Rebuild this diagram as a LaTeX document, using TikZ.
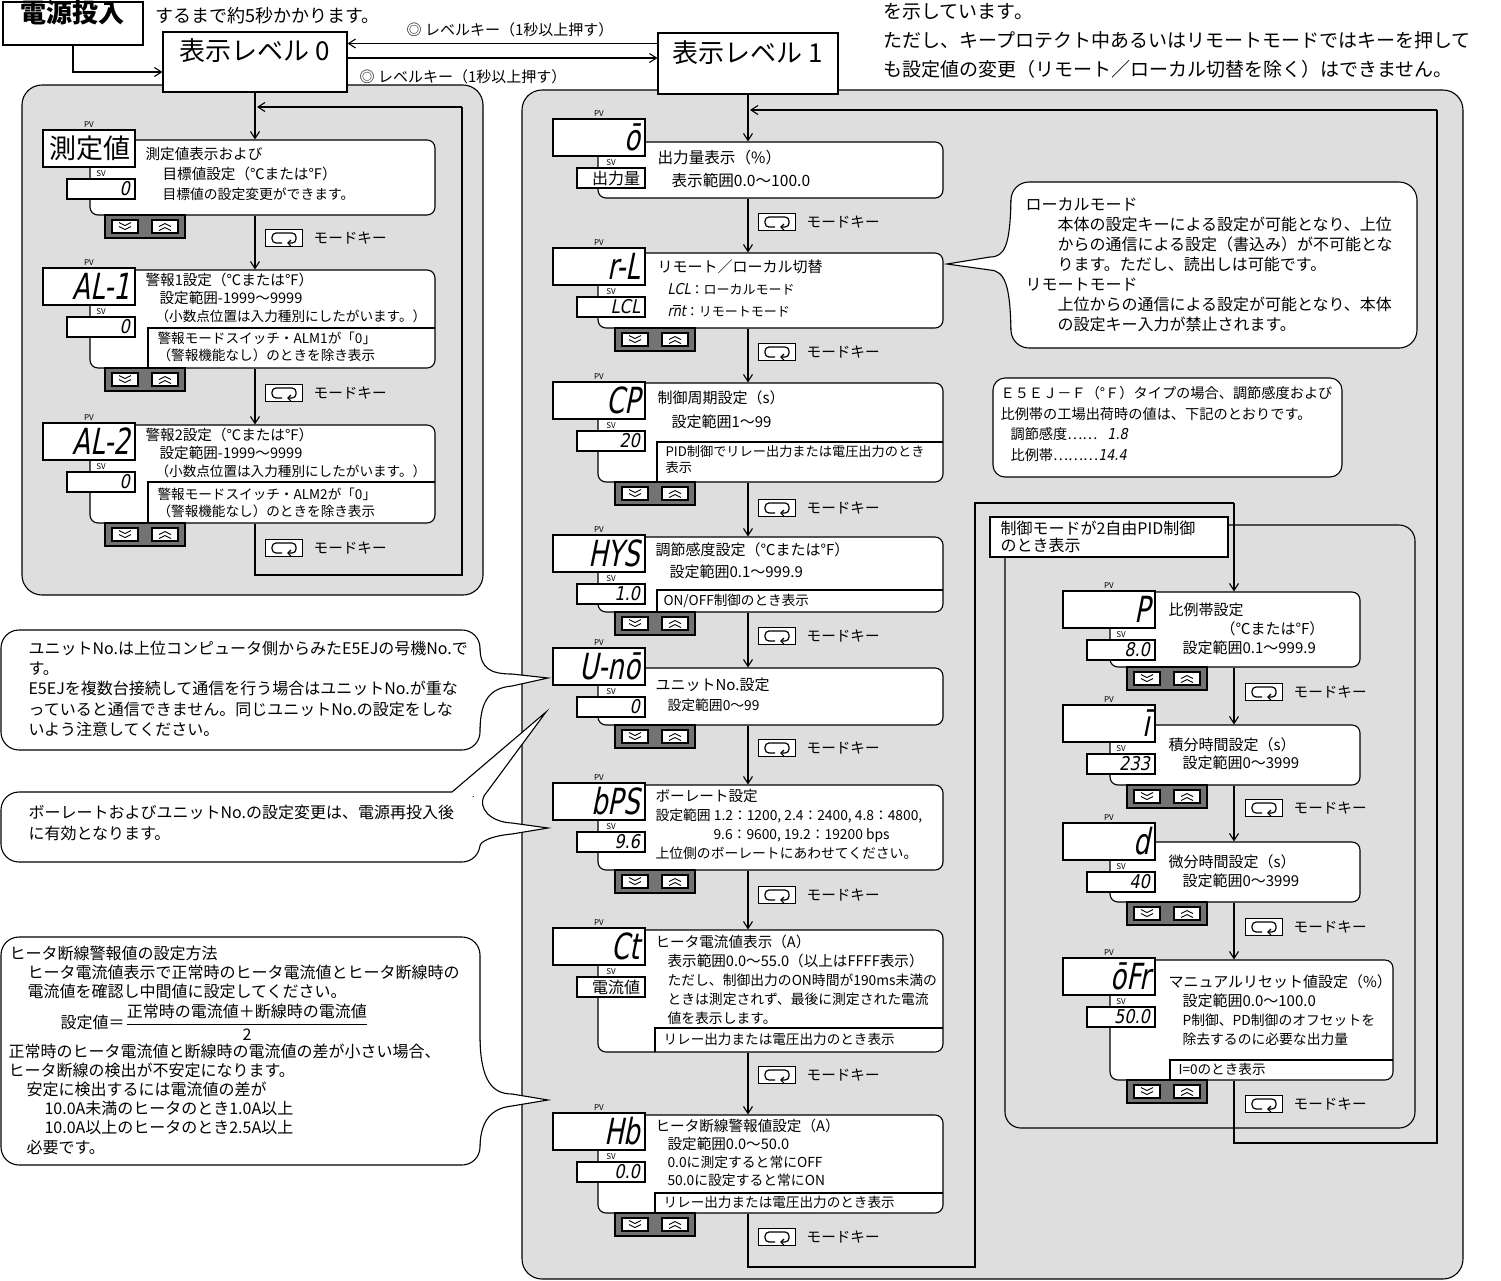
\documentclass[tikz,border=0pt]{standalone}
\usepackage{fontspec}
\setmainfont{Noto Sans CJK JP}
\newfontfamily\segfont[FakeSlant=0.2,FakeStretch=0.85]{DejaVu Sans}
\newfontfamily\segnarrow[FakeSlant=0.2,FakeStretch=0.72]{DejaVu Sans}
\usetikzlibrary{positioning, fit, arrows.meta}

\newcommand{\segsm}{\segfont\fontsize{7.5}{9}\selectfont}
\newcommand{\smtxt}{\fontsize{6.9}{9}\selectfont}

\tikzset{
  panel/.style={draw, fill=black!13, rounded corners=10pt, inner sep=0pt},
  lvlbox/.style={draw, fill=white, inner sep=0pt, font=\fontsize{13}{15}\selectfont},
  descbox/.style={draw, fill=white, rounded corners=4pt, inner sep=0pt},
  callout/.style={draw, fill=white, rounded corners=9pt, inner sep=0pt},
  dispbox/.style={draw, fill=white, inner sep=0pt},
  dlabel/.style={inner sep=0pt, font=\fontsize{4}{4}\selectfont},
  segbig/.style={inner sep=0pt, anchor=east, font=\segnarrow\fontsize{18}{18}\selectfont},
  segsv/.style={inner sep=0pt, anchor=east, font=\segfont\fontsize{9.5}{9.5}\selectfont},
  keypad/.style={draw, fill=black!55, inner sep=0pt},
  keybtn/.style={draw, fill=white, minimum width=13pt, minimum height=6.5pt, inner sep=0pt},
  keydn/.style={keybtn, path picture={\draw[shift={(path picture bounding box.center)}, line width=0.45pt]
      (-6,-4) -- (0,-1) -- (6,-4) (-6,0) -- (0,3) -- (6,0);}},
  keyup/.style={keybtn, path picture={\draw[shift={(path picture bounding box.center)}, line width=0.45pt]
      (-6,4) -- (0,1) -- (6,4) (-6,0) -- (0,-3) -- (6,0);}},
  modebox/.style={draw, fill=white, minimum width=18.5pt, minimum height=8.5pt, inner sep=0pt,
    path picture={\draw[shift={(path picture bounding box.center)}, rounded corners=2pt, line width=0.6pt,
      {Straight Barb[length=1.5pt,width=3pt]}-] (3,5) -- (12,5) -- (12,-5) -- (-12,-5) -- (-12,5) -- (-2,5);}},
  modelbl/.style={inner sep=0pt, font=\fontsize{7.3}{9}\selectfont},
  lklbl/.style={inner sep=0pt, font=\fontsize{7.5}{9}\selectfont},
  flow/.style={-{Straight Barb[length=3.5pt,width=4.5pt]}},
  txt/.style={anchor=north west, inner sep=0pt, align=left, font=\fontsize{7.3}{9}\selectfont},
  cond/.style={txt, font=\fontsize{6.8}{8.5}\selectfont},
  note/.style={txt, font=\fontsize{8}{10}\selectfont},
}

% display unit: name, x, y, PV text, SV text
\newcommand{\unitdisp}[5]{%
  \node[dispbox, fit={(#2,#3) (#2+92,#3+37)}] (#1pv) {};
  \node[dlabel, above=0.7pt of #1pv] (#1pvl) {PV};
  \node[dispbox, fit={(#2+24,#3+49) (#2+92,#3+69)}] (#1sv) {};
  \node[dlabel, above=0.7pt of #1sv] (#1svl) {SV};
  \node[segbig] (#1pvt) at ([xshift=-2.5pt]#1pv.east) {#4};
  \node[segsv] (#1svt) at ([xshift=-2.5pt]#1sv.east) {#5};
}
% up/down keys: name, x, y
\newcommand{\keypad}[3]{%
  \node[keypad, fit={(#2,#3) (#2+80,#3+23)}] (#1) {};
  \node[keydn] (#1d) at (#2+20,#3+11.5) {};
  \node[keyup] (#1u) at (#2+60,#3+11.5) {};
}
% mode key: name, x, y
\newcommand{\modekey}[3]{%
  \node[modebox, anchor=west] (#1) at (#2,#3) {};
  \node[modelbl, right=5pt of #1] (#1t) {モードキー};
}

\begin{document}
\begin{tikzpicture}[x=0.5pt, y=-0.5pt, line width=0.55pt]
\useasboundingbox (0,0) rectangle (1501,1281);

% panels
\node[panel, fit={(22,85) (483,595)}] (p0) {};
\node[panel, fit={(522,90) (1463,1279)}] (p1) {};
\node[panel, rounded corners=8pt, fit={(1005,525) (1415,1128)}] (p2) {};

% levels
\node[lvlbox, font=\fontsize{13}{15}\selectfont\bfseries, fit={(3,2) (143,45)}] (pw) {電源投入};
\node[lvlbox, fit={(163,32) (347,92)}] (lv0) {表示レベル 0};
\node[lvlbox, fit={(658,33) (838,94)}] (lv1) {表示レベル 1};
\draw[flow] (pw.south) |- ([yshift=-5pt]lv0.west);
\draw[flow] ([yshift=10pt]lv1.west) -- ([yshift=10pt]lv1.west -| lv0.east);
\draw[flow] ([yshift=2pt]lv0.east) -- ([yshift=2pt]lv0.east -| lv1.west);
\node[lklbl] (lk1) at (510,30) {◎ レベルキー（1秒以上押す）};
\node[lklbl] (lk2) at (463,77) {◎ レベルキー（1秒以上押す）};
\node[anchor=west, inner sep=0pt, font=\fontsize{9}{11}\selectfont] (n0) at (155,16) {するまで約5秒かかります。};
\node[txt, font=\fontsize{9.5}{14.5}\selectfont] (n1) at (883,3) {を示しています。\\ただし、キープロテクト中あるいはリモートモードではキーを押して\\も設定値の変更（リモート／ローカル切替を除く）はできません。};

% level 0
\node[descbox, fit={(90,140) (435,215)}] (d01) {};
\node[descbox, fit={(90,270) (435,368)}] (d02) {};
\node[descbox, fit={(90,425) (435,523)}] (d03) {};
\draw (148,368) |- (435,328);
\draw (148,523) |- (435,482);
\unitdisp{a0}{43}{130}{{\normalfont\fontsize{13.5}{13.5}\selectfont 測定値}}{0}
\unitdisp{a1}{43}{268}{AL-1}{0}
\unitdisp{a2}{43}{423}{AL-2}{0}
\keypad{k01}{105}{215}
\keypad{k02}{105}{368}
\keypad{k03}{105}{523}
\modekey{m01}{265}{238}
\modekey{m02}{265}{393}
\modekey{m03}{265}{548}
\node[txt, font=\fontsize{7.3}{10}\selectfont] (t01) at (145,147) {測定値表示および\\\hspace*{8.5pt}目標値設定（℃または°F）\\\hspace*{8.5pt}{\smtxt 目標値の設定変更ができます。}};
\node[txt] (t02) at (145,272) {警報1設定（℃または°F）\\\hspace*{7pt}設定範囲-1999～9999\\\hspace*{5pt}{\fontsize{6.8}{9}\selectfont （小数点位置は入力種別にしたがいます。）}};
\node[cond] (c02) at (157,331) {警報モードスイッチ・ALM1が「0」\\（警報機能なし）のときを除き表示};
\node[txt] (t03) at (145,427) {警報2設定（℃または°F）\\\hspace*{7pt}設定範囲-1999～9999\\\hspace*{5pt}{\fontsize{6.8}{9}\selectfont （小数点位置は入力種別にしたがいます。）}};
\node[cond] (c03) at (157,487) {警報モードスイッチ・ALM2が「0」\\（警報機能なし）のときを除き表示};
\coordinate (fl0) at (255,0);
\draw[flow] (lv0.south) -- (lv0.south |- d01.north);
\draw[flow] (d01.south -| fl0) -- (d02.north -| fl0);
\draw[flow] (d02.south -| fl0) -- (d03.north -| fl0);
\coordinate (r0a) at (255,575);
\coordinate (r0b) at (462,107);
\coordinate (r0c) at (257,107);
\draw (d03.south -| fl0) -- (r0a) -| (r0b);
\draw[flow] (r0b) -- (r0c);

% level 1
\node[descbox, fit={(598,142) (943,198)}] (d11) {};
\node[descbox, fit={(598,253) (943,328)}] (d12) {};
\node[descbox, fit={(598,383) (943,482)}] (d13) {};
\node[descbox, fit={(598,537) (943,612)}] (d14) {};
\node[descbox, fit={(598,668) (943,725)}] (d15) {};
\node[descbox, fit={(598,785) (943,870)}] (d16) {};
\node[descbox, fit={(598,930) (943,1052)}] (d17) {};
\node[descbox, fit={(598,1115) (943,1213)}] (d18) {};
\draw (657,482) |- (943,442);
\draw (657,612) |- (943,590);
\draw (655,1052) |- (943,1028);
\draw (655,1213) |- (943,1193);
\unitdisp{b0}{553}{119}{ō}{{\normalfont\fontsize{8}{8}\selectfont 出力量}}
\unitdisp{b1}{553}{248}{r-L}{LCL}
\unitdisp{b2}{553}{382}{CP}{20}
\unitdisp{b3}{553}{535}{HYS}{1.0}
\unitdisp{b4}{553}{648}{U-nō}{0}
\unitdisp{b5}{553}{783}{bPS}{9.6}
\unitdisp{b6}{553}{928}{Ct}{{\normalfont\fontsize{8}{8}\selectfont 電流値}}
\unitdisp{b7}{553}{1113}{Hb}{0.0}
\keypad{k12}{615}{328}
\keypad{k13}{615}{482}
\keypad{k14}{615}{612}
\keypad{k15}{615}{725}
\keypad{k16}{615}{870}
\keypad{k18}{615}{1213}
\modekey{m11}{758}{222}
\modekey{m12}{758}{352}
\modekey{m13}{758}{508}
\modekey{m14}{758}{636}
\modekey{m15}{758}{748}
\modekey{m16}{758}{895}
\modekey{m17}{758}{1075}
\modekey{m18}{758}{1237}
\node[txt, font=\fontsize{7.8}{11.5}\selectfont] (t11) at (657,150) {出力量表示（\%）\\\hspace*{7pt}表示範囲0.0～100.0};
\node[txt, font=\fontsize{7.5}{11}\selectfont] (t12) at (657,259) {リモート／ローカル切替\\\hspace*{5pt}{\segsm LCL}{\fontsize{6.5}{9}\selectfont ：ローカルモード}\\\hspace*{5pt}{\segsm r$\overline{\mbox{n}}$t}{\fontsize{6.5}{9}\selectfont ：リモートモード}};
\node[txt, font=\fontsize{7.5}{12}\selectfont] (t13) at (657,390) {制御周期設定（s）\\\hspace*{7pt}設定範囲1～99};
\node[cond, font=\fontsize{6.6}{8}\selectfont] (c13) at (665,445) {PID制御でリレー出力または電圧出力のとき\\表示};
\node[txt, font=\fontsize{7.5}{11}\selectfont] (t14) at (655,542) {調節感度設定（℃または°F）\\\hspace*{7pt}設定範囲0.1～999.9};
\node[cond] (c14) at (663,594) {ON/OFF制御のとき表示};
\node[txt, font=\fontsize{7.5}{10}\selectfont] (t15) at (655,677) {ユニットNo.設定\\\hspace*{6pt}{\smtxt 設定範囲0～99}};
\node[txt, font=\fontsize{7.3}{9.5}\selectfont] (t16) at (655,789) {ボーレート設定\\{\smtxt 設定範囲 1.2：1200, 2.4：2400, 4.8：4800,}\\\hspace*{29pt}{\smtxt 9.6：9600, 19.2：19200 bps}\\{\smtxt 上位側のボーレートにあわせてください。}};
\node[txt, font=\fontsize{7.3}{9.6}\selectfont] (t17) at (655,934) {ヒータ電流値表示（A）\\\hspace*{6pt}表示範囲0.0～55.0（以上はFFFF表示）\\\hspace*{6pt}{\smtxt ただし、制御出力のON時間が190ms未満の}\\\hspace*{6pt}{\smtxt ときは測定されず、最後に測定された電流}\\\hspace*{6pt}{\smtxt 値を表示します。}};
\node[cond] (c17) at (663,1033) {リレー出力または電圧出力のとき表示};
\node[txt] (t18) at (655,1118) {ヒータ断線警報値設定（A）\\\hspace*{6pt}設定範囲0.0～50.0\\\hspace*{6pt}{\smtxt 0.0に測定すると常にOFF}\\\hspace*{6pt}{\smtxt 50.0に設定すると常にON}};
\node[cond] (c18) at (663,1196) {リレー出力または電圧出力のとき表示};
\coordinate (fl1) at (748,0);
\draw[flow] (lv1.south) -- (lv1.south |- d11.north);
\foreach \p/\q in {d11/d12, d12/d13, d13/d14, d14/d15, d15/d16, d16/d17, d17/d18}
  \draw[flow] (\p.south -| fl1) -- (\q.north -| fl1);

% 2-DOF PID block
\node[dispbox, fit={(990,517) (1228,557)}] (dof) {};
\node[txt, font=\fontsize{8}{8.8}\selectfont] (doft) at (1000,520) {制御モードが2自由PID制御\\のとき表示};
\node[descbox, fit={(1110,592) (1360,667)}] (d21) {};
\node[descbox, fit={(1110,725) (1360,785)}] (d22) {};
\node[descbox, fit={(1110,842) (1360,902)}] (d23) {};
\node[descbox, fit={(1110,960) (1393,1080)}] (d24) {};
\draw (1170,1080) |- (1393,1060);
\unitdisp{c1}{1063}{591}{P}{8.0}
\unitdisp{c2}{1063}{705}{ī}{233}
\unitdisp{c3}{1063}{823}{d}{40}
\unitdisp{c4}{1063}{958}{ōFr}{50.0}
\keypad{k21}{1127}{667}
\keypad{k22}{1127}{785}
\keypad{k23}{1127}{902}
\keypad{k24}{1127}{1080}
\modekey{m21}{1245}{692}
\modekey{m22}{1245}{808}
\modekey{m23}{1245}{927}
\modekey{m24}{1245}{1104}
\node[txt, font=\fontsize{7.5}{9.5}\selectfont] (t21) at (1168,602) {比例帯設定\\\hspace*{26pt}（℃または°F）\\\hspace*{7pt}設定範囲0.1～999.9};
\node[txt, font=\fontsize{7.5}{9}\selectfont] (t22) at (1168,737) {積分時間設定（s）\\\hspace*{7pt}設定範囲0～3999};
\node[txt, font=\fontsize{7.5}{9.5}\selectfont] (t23) at (1168,854) {微分時間設定（s）\\\hspace*{7pt}設定範囲0～3999};
\node[txt, font=\fontsize{7.5}{9.5}\selectfont] (t24) at (1168,974) {マニュアルリセット値設定（\%）\\\hspace*{7pt}設定範囲0.0～100.0\\\hspace*{7pt}{\smtxt P制御、PD制御のオフセットを}\\\hspace*{7pt}{\smtxt 除去するのに必要な出力量}};
\node[cond] (c24) at (1178,1063) {I=0のとき表示};
\coordinate (fl2) at (1234,0);
\foreach \p/\q in {d21/d22, d22/d23, d23/d24}
  \draw[flow] (\p.south -| fl2) -- (\q.north -| fl2);
\coordinate (j1) at (748,1267);
\coordinate (j2) at (975,503);
\coordinate (j3) at (1234,503);
\draw (d18.south -| fl1) -- (j1) -| (j2) -- (j3);
\draw[flow] (j3) -- (d21.north -| fl2);
\coordinate (j4) at (1234,1143);
\coordinate (j5) at (1437,110);
\coordinate (j6) at (750,110);
\draw (d24.south -| fl2) -- (j4) -| (j5);
\draw[flow] (j5) -- (j6);

% notes on the right
\node[callout, rounded corners=6pt, fit={(993,378) (1342,477)}] (e5) {};
\node[txt, font=\fontsize{7.1}{10.3}\selectfont] (e5t) at (1000,386) {Ｅ５ＥＪ－Ｆ（°Ｆ）タイプの場合、調節感度および\\比例帯の工場出荷時の値は、下記のとおりです。\\\hspace*{5pt}調節感度……\hspace{5pt}{\segsm 1.8}\\\hspace*{5pt}比例帯………{\segsm 14.4}};
\node[callout, fit={(1011,182) (1417,348)}] (lr) {};
\fill[white] (1015,200) -- (1011,200) .. controls (1010,245) and (1005,257) .. (990,257) -- (947,264) -- (990,270) .. controls (1005,271) and (1010,285) .. (1011,330) -- (1015,330) -- cycle;
\draw (1011,200) .. controls (1010,245) and (1005,257) .. (990,257) -- (947,264) -- (990,270) .. controls (1005,271) and (1010,285) .. (1011,330);
\node[note] (lrt) at (1025,197) {ローカルモード\\\hspace*{16pt}本体の設定キーによる設定が可能となり、上位\\\hspace*{16pt}からの通信による設定（書込み）が不可能とな\\\hspace*{16pt}ります。ただし、読出しは可能です。\\リモートモード\\\hspace*{16pt}上位からの通信による設定が可能となり、本体\\\hspace*{16pt}の設定キー入力が禁止されます。};

% notes on the left
\node[callout, fit={(1,630) (480,750)}] (cu) {};
\fill[white] (476,650) -- (480,650) .. controls (481,668) and (490,674) .. (512,674) -- (548,678) -- (512,686) .. controls (490,688) and (481,700) .. (480,728) -- (476,728) -- cycle;
\draw (480,650) .. controls (481,668) and (490,674) .. (512,674) -- (548,678) -- (512,686) .. controls (490,688) and (481,700) .. (480,728);
\node[note, font=\fontsize{8}{10.2}\selectfont] (cut) at (28,640) {ユニットNo.は上位コンピュータ側からみたE5EJの号機No.で\\す。\\E5EJを複数台接続して通信を行う場合はユニットNo.が重な\\っていると通信できません。同じユニットNo.の設定をしな\\いよう注意してください。};
\node[callout, fit={(1,792) (480,862)}] (cb) {};
\fill[white] (452,792) -- (546,712) -- (484,796) .. controls (478,808) and (490,822) .. (512,823) -- (548,828) -- (512,834) .. controls (490,836) and (480,842) .. (480,846) -- (474,846) -- (474,796) -- (452,796) -- cycle;
\draw (452,792) -- (546,712) -- (484,796) .. controls (478,808) and (490,822) .. (512,823) -- (548,828) -- (512,834) .. controls (490,836) and (480,842) .. (480,846);
\node[note, font=\fontsize{8}{10.5}\selectfont] (cbt) at (28,804) {ボーレートおよびユニットNo.の設定変更は、電源再投入後\\に有効となります。};
\node[callout, fit={(1,937) (480,1165)}] (ch) {};
\fill[white] (476,1040) -- (480,1040) .. controls (481,1080) and (492,1094) .. (512,1094) -- (548,1100) -- (512,1106) .. controls (492,1108) and (481,1120) .. (480,1145) -- (476,1145) -- cycle;
\draw (480,1040) .. controls (481,1080) and (492,1094) .. (512,1094) -- (548,1100) -- (512,1106) .. controls (492,1108) and (481,1120) .. (480,1145);
\node[note, font=\fontsize{8}{9.7}\selectfont] (ch1) at (9,945) {ヒータ断線警報値の設定方法\\\hspace*{9pt}ヒータ電流値表示で正常時のヒータ電流値とヒータ断線時の\\\hspace*{9pt}電流値を確認し中間値に設定してください。};
\node[anchor=west, inner sep=0pt, font=\fontsize{8}{10}\selectfont] (chf) at (60,1022) {設定値＝$\displaystyle\frac{\mbox{正常時の電流値＋断線時の電流値}}{\mbox{2}}$};
\node[note, font=\fontsize{8}{9.6}\selectfont] (ch2) at (8,1043) {正常時のヒータ電流値と断線時の電流値の差が小さい場合、\\ヒータ断線の検出が不安定になります。\\\hspace*{9pt}安定に検出するには電流値の差が\\\hspace*{18pt}10.0A未満のヒータのとき1.0A以上\\\hspace*{18pt}10.0A以上のヒータのとき2.5A以上\\\hspace*{9pt}必要です。};
\end{tikzpicture}
\end{document}
